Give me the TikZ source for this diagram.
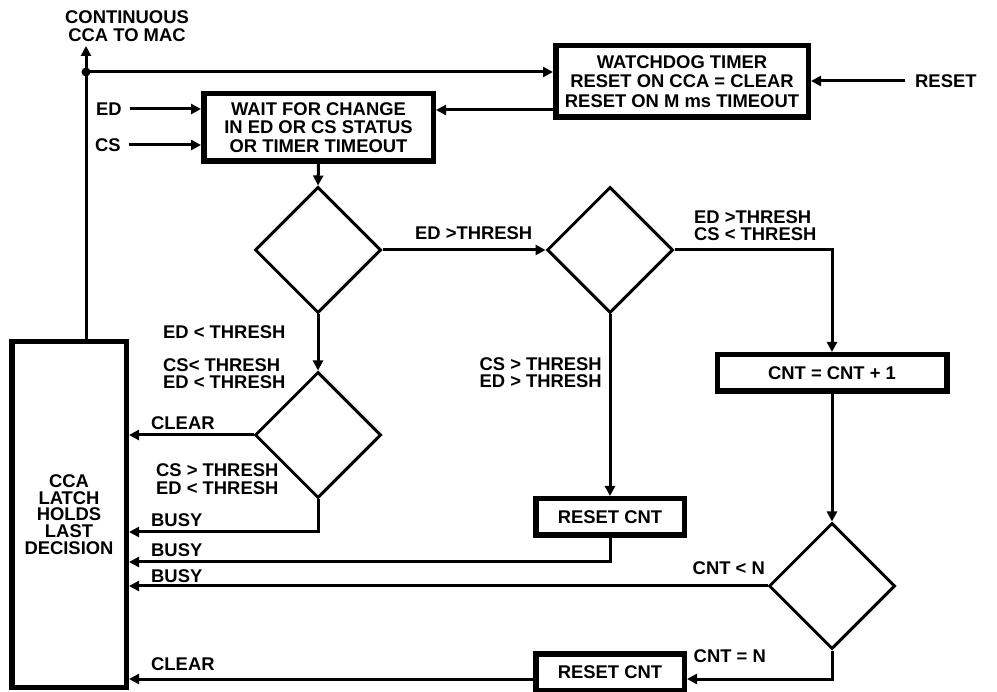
\documentclass[tikz,border=0pt]{standalone}
\usepackage{fontspec}
\setmainfont{Liberation Sans}
\usetikzlibrary{arrows.meta,shapes.geometric}
\begin{document}
\begin{tikzpicture}[x=1pt,y=-1pt,
  font=\fontsize{18.4}{17.5}\selectfont\bfseries,
  box/.style={draw,line width=5.5pt,inner sep=0,align=center},
  dia/.style={draw,diamond,line width=3pt,minimum width=126pt,minimum height=126pt,inner sep=0,miter limit=20},
  arr/.style={line width=3pt,-{Triangle[length=10pt,width=10pt]}},
  ln/.style={line width=3pt},
  lbl/.style={inner sep=0,align=left,anchor=west},
]
\useasboundingbox (0,0) rectangle (997,692);

% boxes
\node[box,minimum width=252.5pt,minimum height=71.5pt,
  font=\fontsize{18.4}{19.5}\selectfont\bfseries] (wd) at (682,81.5)
  {WATCHDOG TIMER\\RESET ON CCA = CLEAR\\RESET ON M ms TIMEOUT};
\node[box,minimum width=229.5pt,minimum height=67.5pt,
  font=\fontsize{18.4}{18.5}\selectfont\bfseries] (wait) at (318.5,127.5)
  {WAIT FOR CHANGE\\IN ED OR CS STATUS\\OR TIMER TIMEOUT};
\node[box,minimum width=114.5pt,minimum height=345.5pt,
  font=\fontsize{18.4}{16.7}\selectfont\bfseries] (latch) at (69,514.5)
  {CCA\\LATCH\\HOLDS\\LAST\\DECISION};
\node[box,minimum width=229.5pt,minimum height=36.5pt] (cnt) at (832,373) {CNT = CNT + 1};
\node[box,minimum width=148.5pt,minimum height=36.5pt] (rc1) at (610,517) {RESET CNT};
\node[box,minimum width=148.5pt,minimum height=36.5pt] (rc2) at (610,672) {RESET CNT};

% diamonds
\node[dia] (d1) at (318,250) {};
\node[dia] (d2) at (610,250) {};
\node[dia] (d3) at (318,435) {};
\node[dia] (d4) at (832,586) {};

% outside labels / inputs
\node[align=center,inner sep=0] (cont) at (127,26) {CONTINUOUS\\CCA TO MAC};
\node[lbl] (ed) at (96,109) {ED};
\node[lbl] (cs) at (95,145) {CS};
\node[lbl] (reset) at (915,81) {RESET};
\coordinate (out) at (86,46);
\coordinate (jn) at (86,72);

% connectors
\draw[arr] (latch.north -| out) -- (out);
\fill (jn) circle (4.5pt);
\draw[arr] (jn) -- (jn -| wd.west);
\draw[arr] ([yshift=10pt]wd.south west) -- ([yshift=10pt]wd.south west -| wait.east);
\draw[arr] ([xshift=-10pt]reset.west) -- (reset.west -| wd.east);
\draw[arr] ([xshift=8pt]ed.east) -- (ed.east -| wait.west);
\draw[arr] ([xshift=8pt]cs.east) -- (cs.east -| wait.west);
\draw[arr] (wait.south) -- (d1.north);
\draw[arr] (d1.east) -- (d2.west);
\draw[arr] (d1.south) -- (d3.north);
\draw[arr] (d3.west) -- (d3.west -| latch.east);
\draw[arr] (d3.south) |- ([yshift=-17.5pt]latch.east);
\draw[arr] (d2.south) -- (rc1.north);
\draw[arr] (rc1.south) |- ([yshift=-47.5pt]latch.east);
\draw[arr] (d2.east) -| (cnt.north);
\draw[arr] (cnt.south) -- (d4.north);
\draw[arr] (d4.west) -- (d4.west -| latch.east);
\draw[arr] (d4.south) |- ([yshift=-7pt]rc2.east);
\draw[arr] ([yshift=-7pt]rc2.west) -- ([yshift=-7pt]rc2.west -| latch.east);

% edge labels
\node[lbl] (l1) at (415,233) {ED >THRESH};
\node[lbl] (l2) at (694,225.5) {ED >THRESH\\CS < THRESH};
\node[lbl] (l3) at (163,332) {ED < THRESH};
\node[lbl] (l4) at (163,373.5) {CS< THRESH\\ED < THRESH};
\node[lbl,anchor=east] (l5) at (602,372.5) {CS > THRESH\\ED > THRESH};
\node[lbl] (l6) at (151,423) {CLEAR};
\node[lbl] (l7) at (156,479) {CS > THRESH\\ED < THRESH};
\node[lbl] (l8) at (151,520) {BUSY};
\node[lbl] (l9) at (151,550) {BUSY};
\node[lbl] (l10) at (151,576) {BUSY};
\node[lbl] (l11) at (151,664) {CLEAR};
\node[lbl,anchor=east] (l12) at (765,568) {CNT < N};
\node[lbl,anchor=east] (l13) at (766,656) {CNT = N};
\end{tikzpicture}
\end{document}
